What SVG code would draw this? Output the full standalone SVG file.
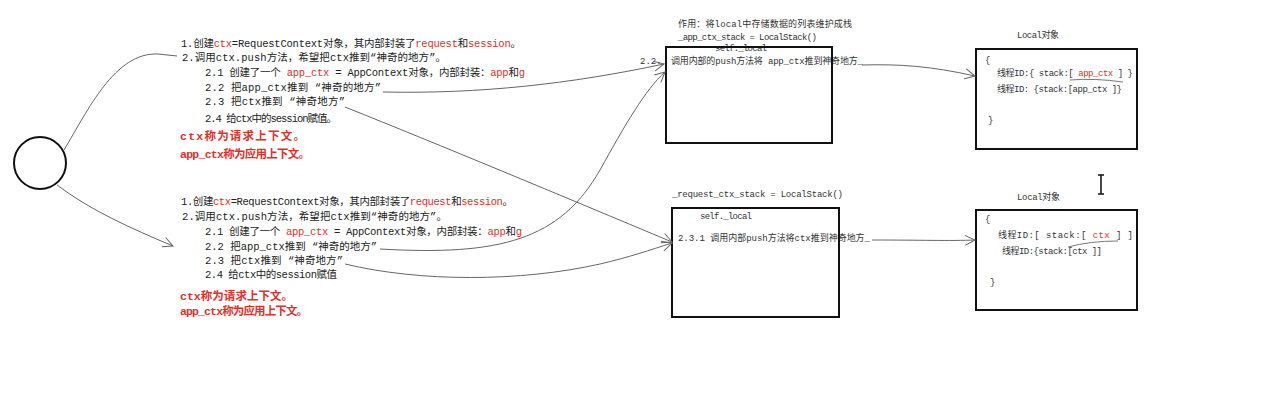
<svg xmlns="http://www.w3.org/2000/svg" width="1265" height="414" viewBox="0 0 1265 414">
<style>
.t{font-family:"Liberation Mono","Noto Sans CJK SC",monospace;font-size:10.5px;fill:#222}
.s{font-family:"Liberation Mono","Noto Sans CJK SC",monospace;font-size:9px;fill:#333}
.r{fill:#e0302a}
.rb{fill:#e0302a;font-weight:bold;font-size:11.5px}
.box{fill:none;stroke:#111;stroke-width:2}
.c{fill:none;stroke:#666;stroke-width:1}
.h{fill:none;stroke:#777;stroke-width:1}
</style>
<defs>
<marker id="arr" markerUnits="userSpaceOnUse" markerWidth="14" markerHeight="14" refX="11" refY="6" orient="auto" viewBox="0 0 14 12">
<path d="M1,1 L11,6 L1,11" fill="none" stroke="#666" stroke-width="1"/>
</marker>
</defs>
<rect width="1265" height="414" fill="#fff"/>

<g id="start">
<circle cx="40" cy="163" r="26" fill="none" stroke="#111" stroke-width="2"/>
</g>

<g id="block-top">
<text class="t" x="181" y="47" textLength="340" lengthAdjust="spacing">1.创建<tspan class="r">ctx</tspan>=RequestContext对象，其内部封装了<tspan class="r">request</tspan>和<tspan class="r">session</tspan>。</text>
<text class="t" x="182" y="61" textLength="264" lengthAdjust="spacing">2.调用ctx.push方法，希望把ctx推到“神奇的地方”。</text>
<text class="t" x="205" y="76" textLength="320" lengthAdjust="spacing">2.1 创建了一个 <tspan class="r">app_ctx</tspan> = AppContext对象，内部封装：<tspan class="r">app</tspan>和<tspan class="r">g</tspan></text>
<text class="t" x="205" y="91" textLength="176" lengthAdjust="spacing">2.2 把app_ctx推到 “神奇的地方”</text>
<text class="t" x="205" y="105" textLength="140" lengthAdjust="spacing">2.3 把ctx推到 “神奇地方”</text>
<text class="t" x="205" y="122" textLength="132" lengthAdjust="spacing">2.4 给ctx中的session赋值。</text>
<text class="t rb" x="180" y="140" textLength="125" lengthAdjust="spacing">ctx称为请求上下文。</text>
<text class="t rb" x="180" y="158" textLength="130" lengthAdjust="spacing">app_ctx称为应用上下文。</text>
</g>

<g id="block-bottom">
<text class="t" x="181" y="205" textLength="332" lengthAdjust="spacing">1.创建<tspan class="r">ctx</tspan>=RequestContext对象，其内部封装了<tspan class="r">request</tspan>和<tspan class="r">session</tspan>。</text>
<text class="t" x="182" y="220" textLength="265" lengthAdjust="spacing">2.调用ctx.push方法，希望把ctx推到“神奇的地方”。</text>
<text class="t" x="205" y="235" textLength="317" lengthAdjust="spacing">2.1 创建了一个 <tspan class="r">app_ctx</tspan> = AppContext对象，内部封装：<tspan class="r">app</tspan>和<tspan class="r">g</tspan></text>
<text class="t" x="205" y="250" textLength="172" lengthAdjust="spacing">2.2 把app_ctx推到 “神奇的地方”</text>
<text class="t" x="205" y="264" textLength="138" lengthAdjust="spacing">2.3 把ctx推到 “神奇地方”</text>
<text class="t" x="205" y="278" textLength="132" lengthAdjust="spacing">2.4 给ctx中的session赋值</text>
<text class="t rb" x="180" y="300" textLength="113" lengthAdjust="spacing">ctx称为请求上下文。</text>
<text class="t rb" x="180" y="315" textLength="128" lengthAdjust="spacing">app_ctx称为应用上下文。</text>
</g>

<g id="app-stack">
<text class="s" x="678" y="27" textLength="174" lengthAdjust="spacing">作用：将local中存储数据的列表维护成栈</text>
<text class="s" x="678" y="40" textLength="139" lengthAdjust="spacing">_app_ctx_stack = LocalStack()</text>
<text class="s" x="715" y="51" textLength="52" lengthAdjust="spacing">self._local</text>
<text class="s" x="640" y="64">2.2.</text>
<text class="s" x="671" y="64" textLength="192" lengthAdjust="spacing">调用内部的push方法将 app_ctx推到神奇地方_</text>
<rect class="box" x="666" y="47" width="166" height="96"/>
</g>

<g id="req-stack">
<text class="s" x="672" y="197" textLength="171" lengthAdjust="spacing">_request_ctx_stack = LocalStack()</text>
<text class="s" x="700" y="219" textLength="52" lengthAdjust="spacing">self._local</text>
<text class="s" x="678" y="241" textLength="192" lengthAdjust="spacing">2.3.1 调用内部push方法将ctx推到神奇地方_</text>
<rect class="box" x="672" y="208" width="167" height="109"/>
</g>

<g id="local-top">
<text class="s" x="1017" y="38" textLength="42" lengthAdjust="spacing">Local对象</text>
<rect class="box" x="976" y="49" width="161" height="100"/>
<text class="s" x="985" y="63">{</text>
<text class="s" x="997" y="76" textLength="136" lengthAdjust="spacing">线程ID:{ stack:[ <tspan class="r">app_ctx</tspan> ] }</text>
<path class="h" d="M1070 80 Q1095 78 1123 82"/>
<text class="s" x="997" y="92" textLength="125" lengthAdjust="spacing">线程ID: {stack:[app_ctx ]}</text>
<text class="s" x="988" y="123">}</text>
</g>

<g id="local-bottom">
<text class="s" x="1017" y="200" textLength="43" lengthAdjust="spacing">Local对象</text>
<rect class="box" x="976" y="210" width="161" height="100"/>
<text class="s" x="985" y="222">{</text>
<text class="s" x="998" y="238" textLength="135" lengthAdjust="spacing">线程ID:[ stack:[      <tspan class="r">ctx</tspan> ] ]</text>
<path class="h" d="M1068 247 Q1090 241 1118 241"/>
<text class="s" x="1002" y="254" textLength="100" lengthAdjust="spacing">线程ID:{stack:[ctx ]]</text>
<text class="s" x="990" y="285">}</text>
</g>

<g id="cursor">
<path d="M1101 175 V194 M1098 175 H1104 M1098 194 H1104" fill="none" stroke="#111" stroke-width="1.5"/>
</g>

<g id="connectors">
<path class="c" d="M64 150 C88 110 115 52 158 54 L177 56"/>
<path class="c" d="M57 185 C90 210 130 228 173 246" marker-end="url(#arr)"/>
<path class="c" d="M383 92 C480 94 570 84 664 64" marker-end="url(#arr)"/>
<path class="c" d="M380 249 C500 256 560 240 600 170 C625 125 645 90 665 72" marker-end="url(#arr)"/>
<path class="c" d="M345 107 C440 145 560 195 672 242" marker-end="url(#arr)"/>
<path class="c" d="M345 264 C420 282 520 282 600 264 C630 257 650 250 672 243" marker-end="url(#arr)"/>
<path class="c" d="M862 65 C900 64 930 66 975 76" marker-end="url(#arr)"/>
<path class="c" d="M872 240 C920 240 950 241 975 240" marker-end="url(#arr)"/>
</g>
</svg>
